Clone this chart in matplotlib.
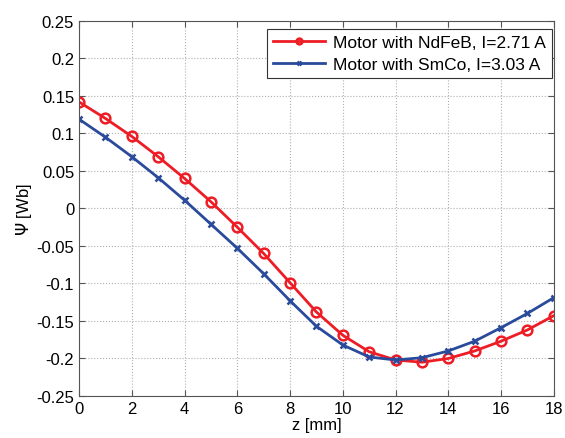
import matplotlib
matplotlib.use("Agg")
import matplotlib.pyplot as plt
import numpy as np

# flux linkage vs. axial position
z_mm = list(range(0, 19))
psi_ndfeb = [0.142, 0.120, 0.096, 0.069, 0.040, 0.009, -0.025, -0.060, -0.099,
             -0.138, -0.169, -0.191, -0.202, -0.205, -0.200, -0.190, -0.177,
             -0.162, -0.143]
psi_smco = [0.119, 0.095, 0.069, 0.041, 0.011, -0.021, -0.053, -0.087, -0.123,
            -0.157, -0.182, -0.198, -0.202, -0.199, -0.190, -0.177, -0.159,
            -0.140, -0.119]
labels = ["Motor with NdFeB, I=2.71 A", "Motor with SmCo, I=3.03 A"]
xticks = list(range(0, 19, 2))
yticks = [-0.25, -0.2, -0.15, -0.1, -0.05, 0, 0.05, 0.1, 0.15, 0.2, 0.25]

plt.rcParams['font.family'] = ['Liberation Sans', 'DejaVu Sans']

fig = plt.figure(figsize=(5.65, 4.39), dpi=100)
ax = fig.add_axes([0.14, 0.0957, 0.84, 0.8543])

ax.plot(z_mm, psi_ndfeb, color='#ee1c24', lw=2, marker='o', ms=7,
        mfc='none', mew=1.8, label=labels[0])
ax.plot(z_mm, psi_smco, color='#2a4b9b', lw=2, marker='x', ms=5,
        mew=1.8, label=labels[1])

ax.set_xlim(0, 18)
ax.set_ylim(-0.25, 0.25)
ax.set_xticks(xticks)
ax.set_yticks(yticks)
ax.set_yticklabels(['%g' % v for v in yticks])
ax.tick_params(direction='in', top=True, right=True, labelsize=12, length=4,
               color='#555555')
ax.grid(True, linestyle=':', color='#b0b0b0', lw=0.8)
for s in ax.spines.values():
    s.set_color('#555555')

ax.set_xlabel('z [mm]', fontsize=12, labelpad=1)
ax.set_ylabel(r'$\Psi$ [Wb]', fontsize=12, labelpad=2)

leg = ax.legend(loc='upper right', bbox_to_anchor=(0.996, 0.979),
                fontsize=12.5, fancybox=False, framealpha=1,
                edgecolor='#333333', borderpad=0.35, handlelength=3.0,
                handletextpad=0.45, labelspacing=0.4, borderaxespad=0,
                markerscale=0.6)
leg.get_frame().set_linewidth(0.8)

fig.savefig('out.png', dpi=100)
